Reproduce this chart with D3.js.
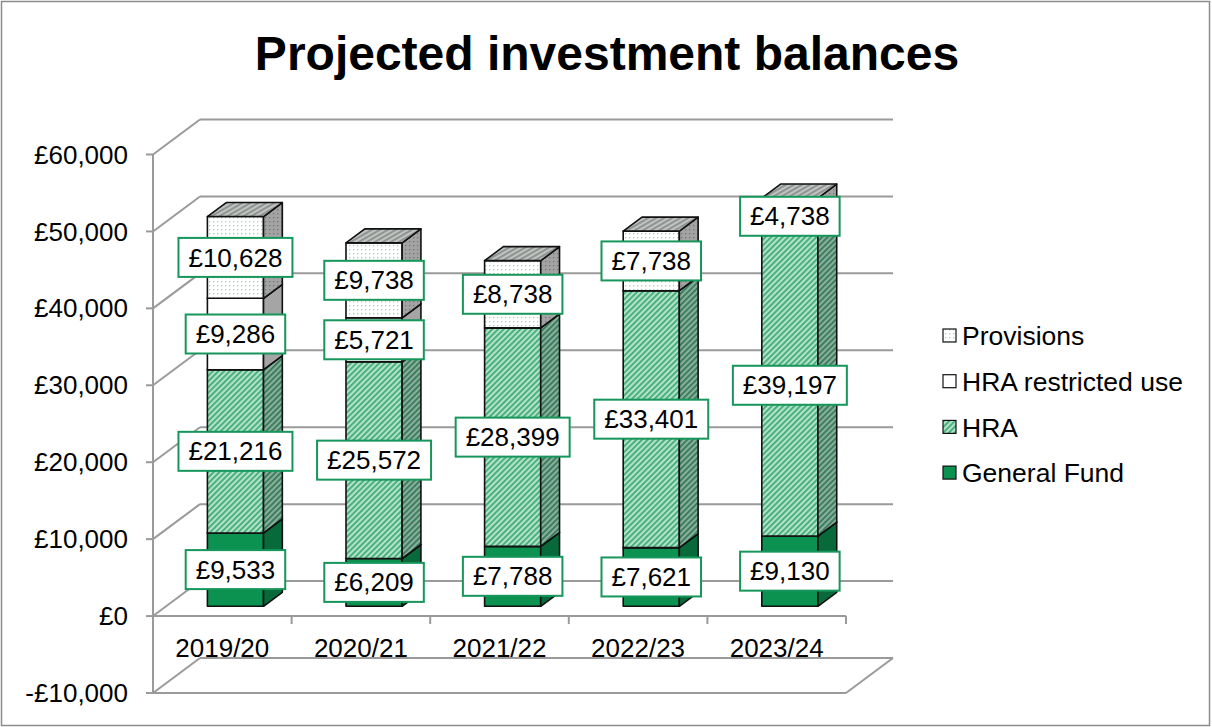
<!DOCTYPE html>
<html>
<head>
<meta charset="utf-8">
<script src="https://cdn.jsdelivr.net/npm/d3@7"></script>
<style>
  body { margin: 0; background: #fff; }
  svg { display: block; font-family: "Liberation Sans", Arial, sans-serif; }
</style>
</head>
<body>
<div id="chart"></div>
<script>
const years = ["2019/20", "2020/21", "2021/22", "2022/23", "2023/24"];
const generalFund = [9533, 6209, 7788, 7621, 9130];
const hra = [21216, 25572, 28399, 33401, 39197];
const hraRestricted = [9286, 5721, 0, 0, 0];
const provisions = [10628, 9738, 8738, 7738, 4738];
const seriesNames = ["General Fund", "HRA", "HRA restricted use", "Provisions"];
const yTicks = [-10000, 0, 10000, 20000, 30000, 40000, 50000, 60000];

const W = 1212, H = 727;
const depth = { dx: 47, dy: -35 };   // full wall depth
const barOff = 0.28, barDepth = 0.4;  // bar position inside the depth

const rows = years.map((y, i) => ({
    year: y,
    "General Fund": generalFund[i],
    "HRA": hra[i],
    "HRA restricted use": hraRestricted[i],
    "Provisions": provisions[i]
}));
const stacked = d3.stack().keys(seriesNames)(rows);

const svg = d3.select("#chart").append("svg")
    .attr("width", W).attr("height", H);

// patterns
const defs = svg.append("defs");
function stripes(id, bg, fg, angle) {
    const p = defs.append("pattern").attr("id", id)
        .attr("patternUnits", "userSpaceOnUse")
        .attr("width", 4).attr("height", 4)
        .attr("patternTransform", `rotate(${angle})`);
    p.append("rect").attr("width", 4).attr("height", 4).attr("fill", bg);
    p.append("rect").attr("width", 1.8).attr("height", 4).attr("fill", fg);
}
function dots(id, bg, fg) {
    const p = defs.append("pattern").attr("id", id)
        .attr("patternUnits", "userSpaceOnUse")
        .attr("width", 4).attr("height", 4);
    p.append("rect").attr("width", 4).attr("height", 4).attr("fill", bg);
    p.append("rect").attr("x", 1).attr("y", 1).attr("width", 1.3).attr("height", 1.3).attr("fill", fg);
}
stripes("hraFront", "#b3e2c9", "#3fac77", 45);
stripes("hraSide", "#86b29b", "#3a7659", 45);
stripes("hraTop", "#a9d4bd", "#5a9c7c", 45);
stripes("provTop", "#c0c3c1", "#8a8f8c", 60);
dots("provFront", "#ffffff", "#a0d4b7");
dots("provSide", "#a3a3a3", "#767676");

const style = {
    "General Fund": { front: "#0b9150", side: "#086a3a", top: "#0c7d46" },
    "HRA": { front: "url(#hraFront)", side: "url(#hraSide)", top: "url(#hraTop)" },
    "HRA restricted use": { front: "#ffffff", side: "#a5a5a5", top: "#c4c4c4" },
    "Provisions": { front: "url(#provFront)", side: "url(#provSide)", top: "url(#provTop)" }
};

// scales
const y = d3.scaleLinear().domain([-10000, 60000]).range([693, 154.5]);
const x = d3.scaleBand().domain(years).range([153, 846]).padding(0);
const fmt = v => (v < 0 ? "-£" : "£") + d3.format(",")(Math.abs(v));

// border
svg.append("rect").attr("x", 1.5).attr("y", 1.5).attr("width", W - 4).attr("height", H - 3)
    .attr("fill", "none").attr("stroke", "#8c8c8c").attr("stroke-width", 1.5);

// title
svg.append("text").attr("x", 607).attr("y", 70).attr("text-anchor", "middle")
    .attr("font-size", 48).attr("font-weight", "bold").text("Projected investment balances");

// walls / gridlines
const grid = svg.append("g").attr("stroke", "#9a9a9a").attr("stroke-width", 2).attr("fill", "none");
const x0 = x.range()[0], x1 = x.range()[1];
yTicks.forEach(t => {
    const yf = y(t);
    grid.append("line").attr("x1", x0).attr("y1", yf).attr("x2", x0 + depth.dx).attr("y2", yf + depth.dy);
    grid.append("line").attr("x1", x0 + depth.dx).attr("y1", yf + depth.dy)
        .attr("x2", x1 + depth.dx).attr("y2", yf + depth.dy);
    grid.append("line").attr("x1", x0 - 7).attr("y1", yf).attr("x2", x0).attr("y2", yf);
});
// floor front and right edge
grid.append("line").attr("x1", x0).attr("y1", y(-10000)).attr("x2", x1).attr("y2", y(-10000));
grid.append("line").attr("x1", x1).attr("y1", y(-10000))
    .attr("x2", x1 + depth.dx).attr("y2", y(-10000) + depth.dy);
// value axis
grid.append("line").attr("x1", x0).attr("y1", y(60000)).attr("x2", x0).attr("y2", y(-10000));
// category axis at 0
grid.append("line").attr("x1", x0).attr("y1", y(0)).attr("x2", x1).attr("y2", y(0));
years.forEach(yr => {
    const xt = x(yr) + x.bandwidth();
    grid.append("line").attr("x1", xt).attr("y1", y(0)).attr("x2", xt).attr("y2", y(0) + 8);
});

// axis labels
svg.append("g").selectAll("text").data(yTicks).enter().append("text")
    .attr("x", 128).attr("y", d => y(d)).attr("dy", "0.35em")
    .attr("text-anchor", "end").attr("font-size", 26).text(fmt);

svg.append("g").selectAll("text").data(years).enter().append("text")
    .attr("x", d => x(d) + x.bandwidth() / 2).attr("y", 657)
    .attr("text-anchor", "middle").attr("font-size", 26).text(d => d);

// bars
const bw = x.bandwidth() * 0.405;
const fx = depth.dx * barOff, fy = depth.dy * barOff;
const sx = depth.dx * barDepth, sy = depth.dy * barDepth;
const bars = svg.append("g");
const labels = [];

years.forEach((yr, i) => {
    const cx = x(yr) + x.bandwidth() / 2 + fx;
    const left = cx - bw / 2, right = cx + bw / 2;
    stacked.forEach(s => {
        const d = s[i];
        if (d[1] - d[0] <= 0) return;
        const yb = y(d[0]) + fy, yt = y(d[1]) + fy;
        const st = style[s.key];
        const g = bars.append("g").attr("stroke", "#111").attr("stroke-width", 1.6)
            .attr("stroke-linejoin", "round");
        g.append("rect").attr("x", left).attr("y", yt).attr("width", bw).attr("height", yb - yt)
            .attr("fill", st.front);
        g.append("path").attr("fill", st.side)
            .attr("d", `M${right},${yb}L${right + sx},${yb + sy}L${right + sx},${yt + sy}L${right},${yt}Z`);
        g.append("path").attr("fill", st.top)
            .attr("d", `M${left},${yt}L${right},${yt}L${right + sx},${yt + sy}L${left + sx},${yt + sy}Z`);
        labels.push({ x: cx, y: (yb + yt) / 2, v: d[1] - d[0] });
    });
});

// data labels
const lg = svg.append("g");
labels.forEach(l => {
    const g = lg.append("g");
    const box = g.append("rect");
    const t = g.append("text").attr("x", l.x).attr("y", l.y).attr("dy", "0.35em")
        .attr("text-anchor", "middle").attr("font-size", 26).text(fmt(l.v));
    const w = t.node().getComputedTextLength() + 20;
    box.attr("x", l.x - w / 2).attr("y", l.y - 19.5).attr("width", w).attr("height", 39)
        .attr("fill", "#fff").attr("stroke", "#16965a").attr("stroke-width", 2);
});

// legend
const legendItems = ["Provisions", "HRA restricted use", "HRA", "General Fund"];
const legendFill = {
    "Provisions": "url(#provFront)",
    "HRA restricted use": "#ffffff",
    "HRA": "url(#hraFront)",
    "General Fund": "#0b9150"
};
const leg = svg.append("g");
legendItems.forEach((name, i) => {
    const ly = 336 + i * 45.7;
    leg.append("rect").attr("x", 943).attr("y", ly - 7).attr("width", 13).attr("height", 13)
        .attr("fill", legendFill[name]).attr("stroke", "#111").attr("stroke-width", 1.2);
    leg.append("text").attr("x", 962).attr("y", ly).attr("dy", "0.35em")
        .attr("font-size", 26.5).text(name);
});
</script>
</body>
</html>
